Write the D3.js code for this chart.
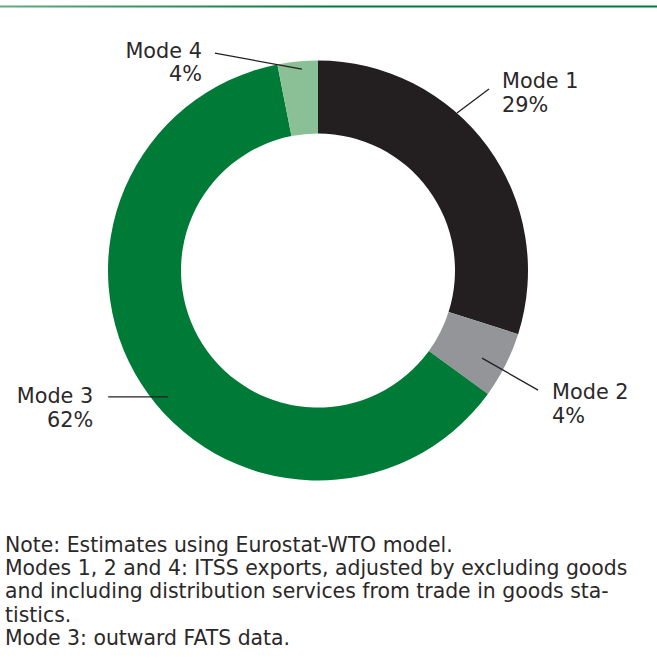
<!DOCTYPE html>
<html>
<head>
<meta charset="utf-8">
<script src="https://cdn.jsdelivr.net/npm/d3@7/dist/d3.min.js"></script>
<style>
  html, body { margin: 0; padding: 0; background: #fff; }
  svg text { font-family: "DejaVu Sans", "Open Sans", sans-serif; fill: #2b2829; }
</style>
</head>
<body>
<div id="chart"></div>
<script>
// slice data, clockwise from 12 o'clock
var modes = ["Mode 1", "Mode 2", "Mode 3", "Mode 4"];
var shares = [29.9, 5.1, 61.9, 3.1];
var shareLabels = ["29%", "4%", "62%", "4%"];  // as printed on the chart
var colors = ["#231f20", "#939598", "#007a37", "#8bc096"];

var noteLines = [
  "Note: Estimates using Eurostat-WTO model.",
  "Modes 1, 2 and 4: ITSS exports, adjusted by excluding goods",
  "and including distribution services from trade in goods sta-",
  "tistics.",
  "Mode 3: outward FATS data."
];

// canvas
var width = 657, height = 672;
var cx = 318, cy = 270.5;
var outerR = 210, innerR = 137;

// leader layout: where along the slice (t), at what radius, offset of line end, text placement
var labelLayout = [
  { t: 0.385, r: 210, dx: 32,  dy: -24, anchor: "start", tx: 13,  ty: -1 },
  { t: 0.57,  r: 186, dx: 56,  dy: 32,  anchor: "start", tx: 14,  ty: 9 },
  { t: 0.466, r: 196, dx: -60, dy: 0,   anchor: "end",   tx: -15, ty: 6.5 },
  { t: 0.59,  r: 202, dx: -87, dy: -16, anchor: "end",   tx: -13, ty: 4.5 }
];
var lineGap = 23.5;

var svg = d3.select("#chart").append("svg")
  .attr("width", width)
  .attr("height", height);

// size a font so that a sample string spans the width seen in the reference
function fitSize(sample, target, base) {
  var t = svg.append("text").attr("font-size", base).text(sample);
  var w = t.node().getComputedTextLength();
  t.remove();
  return base * target / w;
}
var labelSize = fitSize("Mode 2", 76.5, 20);
var noteSize = fitSize(noteLines[1], 623, 20);

// top rule
var grad = svg.append("defs").append("linearGradient")
  .attr("id", "rule")
  .attr("x1", "0%").attr("x2", "100%");
grad.append("stop").attr("offset", "0%").attr("stop-color", "#62ab82");
grad.append("stop").attr("offset", "50%").attr("stop-color", "#007a37");
grad.append("stop").attr("offset", "100%").attr("stop-color", "#007a37");
svg.append("rect")
  .attr("x", 0).attr("y", 5.5)
  .attr("width", width).attr("height", 2)
  .attr("fill", "url(#rule)");

var data = modes.map(function (m, i) {
  return { mode: m, value: shares[i], label: shareLabels[i], color: colors[i], layout: labelLayout[i] };
});

var pie = d3.pie()
  .sort(null)
  .value(function (d) { return d.value; })
  .startAngle(0)
  .endAngle(2 * Math.PI);

var arc = d3.arc()
  .innerRadius(innerR)
  .outerRadius(outerR);

var g = svg.append("g")
  .attr("transform", "translate(" + cx + "," + cy + ")");

var arcs = pie(data);

g.selectAll(".slice")
  .data(arcs)
  .enter().append("path")
    .attr("class", "slice")
    .attr("d", arc)
    .attr("fill", function (d) { return d.data.color; });

// point on the ring at angle a (radians, clockwise from top) and radius r
function polar(a, r) {
  return [Math.sin(a) * r, -Math.cos(a) * r];
}

arcs.forEach(function (d) {
  var L = d.data.layout;
  var a = d.startAngle + (d.endAngle - d.startAngle) * L.t;
  var p0 = polar(a, L.r);
  var p1 = [p0[0] + L.dx, p0[1] + L.dy];

  g.append("line")
    .attr("x1", p0[0]).attr("y1", p0[1])
    .attr("x2", p1[0]).attr("y2", p1[1])
    .attr("stroke", "#231f20")
    .attr("stroke-width", 1.3);

  var txt = g.append("text")
    .attr("text-anchor", L.anchor)
    .attr("font-size", labelSize);
  [d.data.mode, d.data.label].forEach(function (s, k) {
    txt.append("tspan")
      .attr("x", p1[0] + L.tx)
      .attr("y", p1[1] + L.ty + k * lineGap)
      .text(s);
  });
});

// note below the chart
svg.append("g").selectAll("text")
  .data(noteLines)
  .enter().append("text")
    .attr("x", 5)
    .attr("y", function (d, i) { return 552 + i * 23.2; })
    .attr("font-size", noteSize)
    .text(function (d) { return d; });
</script>
</body>
</html>
